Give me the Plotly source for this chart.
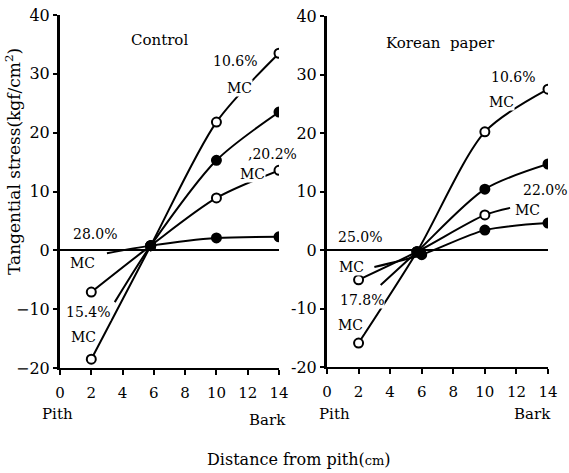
import plotly.graph_objects as go

# ---------------- data ----------------
x_ticks = [0, 2, 4, 6, 8, 10, 12, 14]
y_ticks = [-20, -10, 0, 10, 20, 30, 40]
left_ytext = ["−20", "−10", "0", "10", "20", "30", "40"]
right_ytext = ["-20", "-10", "0", "10", "20", "30", "40"]

# Control panel
ctl_a_x = [2, 5.8, 10, 14]
ctl_a_y = [-18.5, 0.8, 21.8, 33.5]      # 10.6% MC, open
ctl_b_x = [3.5, 5.8, 10, 14]
ctl_b_y = [-8.8, 0.8, 15.3, 23.5]       # filled
ctl_c_x = [2, 5.8, 10, 14]
ctl_c_y = [-7.1, 0.8, 8.9, 13.6]        # open
ctl_d_x = [3.0, 5.8, 10, 14]
ctl_d_y = [-0.5, 0.8, 2.1, 2.3]         # 28.0% MC, filled

# Korean paper panel
kp_a_x = [2, 5.7, 10, 14]
kp_a_y = [-15.9, -0.3, 20.2, 27.5]      # open
kp_b_x = [3.4, 5.7, 10, 14]
kp_b_y = [-6.0, -0.3, 10.4, 14.7]       # filled
kp_c_x = [2, 5.7, 10, 11.6]
kp_c_y = [-5.1, -0.3, 6.0, 7.2]         # open (22.0%)
kp_d_x = [3.0, 6.0, 10, 14]
kp_d_y = [-2.9, -0.8, 3.4, 4.6]         # filled

FONT = "DejaVu Serif"
W, H = 569, 473

fig = go.Figure()

def add(x, y, kind, xa, ya, first_marker=True, last_marker=True):
    n = len(x)
    sizes = [9] * n
    if not first_marker:
        sizes[0] = 0
    if not last_marker:
        sizes[-1] = 0
    if kind == "open":
        color = ["white"] * n
        color[1] = "black"
    else:
        color = ["black"] * n
    fig.add_trace(go.Scatter(
        x=x, y=y, mode="lines+markers", xaxis=xa, yaxis=ya,
        line=dict(color="black", width=2, shape="spline", smoothing=0.8),
        marker=dict(size=sizes, color=color, symbol="circle", opacity=1,
                    line=dict(color="black", width=2)),
        showlegend=False, hoverinfo="skip"))

add(ctl_d_x, ctl_d_y, "filled", "x", "y", first_marker=False)
add(ctl_c_x, ctl_c_y, "open", "x", "y")
add(ctl_b_x, ctl_b_y, "filled", "x", "y", first_marker=False)
add(ctl_a_x, ctl_a_y, "open", "x", "y")

add(kp_d_x, kp_d_y, "filled", "x2", "y2", first_marker=False)
add(kp_c_x, kp_c_y, "open", "x2", "y2", last_marker=False)
add(kp_b_x, kp_b_y, "filled", "x2", "y2", first_marker=False)
add(kp_a_x, kp_a_y, "open", "x2", "y2")

def dom_x(p0, p1):
    return [p0 / W, p1 / W]

def dom_y(top, bottom):
    return [(H - bottom) / H, (H - top) / H]

xcommon = dict(range=[0, 14], tickvals=x_ticks, ticktext=[str(v) for v in x_ticks],
               showline=True, linecolor="black", linewidth=2, ticks="outside",
               ticklen=5, tickwidth=2, tickcolor="black", showgrid=False,
               zeroline=False, mirror=False, ticklabelstandoff=5, automargin=False,
               tickfont=dict(family=FONT, size=15, color="black"))
ycommon = dict(range=[-20, 40], tickvals=y_ticks, showline=True, linecolor="black",
               linewidth=3, ticks="outside", ticklen=4, tickwidth=2, tickcolor="black",
               showgrid=False, zeroline=True, zerolinecolor="black", zerolinewidth=2,
               automargin=False,
               tickfont=dict(family=FONT, size=16, color="black"))

fig.update_layout(
    width=W, height=H, margin=dict(l=0, r=0, t=0, b=0, pad=0, autoexpand=False),
    paper_bgcolor="white", plot_bgcolor="white",
    xaxis=dict(domain=dom_x(60, 279), anchor="y", **xcommon),
    yaxis=dict(domain=dom_y(15, 368), anchor="x", ticktext=left_ytext, **ycommon),
    xaxis2=dict(domain=dom_x(327, 548), anchor="y2", **xcommon),
    yaxis2=dict(domain=dom_y(16, 367), anchor="x2", ticktext=right_ytext, **ycommon),
)

def lab(text, x, y, xa, ya, size=14, bg=True):
    fig.add_annotation(text=text, x=x, y=y, xref=xa, yref=ya, showarrow=False,
                       font=dict(family=FONT, size=size, color="black"),
                       bgcolor="white" if bg else None, borderpad=0,
                       xanchor="center", yanchor="middle")

# Control labels
lab("Control", 6.39, 35.8, "x", "y", size=15)
lab("10.6%", 11.2, 32.2, "x", "y")
lab("MC", 11.5, 27.6, "x", "y")
lab(",20.2%", 13.6, 16.4, "x", "y")
lab("MC", 12.33, 12.9, "x", "y")
lab("28.0%", 2.24, 2.8, "x", "y")
lab("MC", 1.41, -2.2, "x", "y")
lab("15.4%", 1.8, -10.5, "x", "y")
lab("MC", 1.5, -14.7, "x", "y")

# Korean paper labels
lab("Korean  paper", 7.22, 35.4, "x2", "y2", size=15)
lab("10.6%", 11.78, 29.6, "x2", "y2")
lab("MC", 11.08, 25.3, "x2", "y2")
lab("22.0%", 13.8, 10.3, "x2", "y2")
lab("MC", 12.67, 6.8, "x2", "y2")
lab("25.0%", 2.09, 2.2, "x2", "y2")
lab("MC", 1.58, -2.9, "x2", "y2")
lab("17.8%", 2.22, -8.5, "x2", "y2")
lab("MC", 1.46, -12.8, "x2", "y2")

def plab(text, px, py, size=15, angle=0):
    fig.add_annotation(text=text, x=px / W, y=(H - py) / H, xref="paper", yref="paper",
                       showarrow=False, textangle=angle,
                       font=dict(family=FONT, size=size, color="black"),
                       xanchor="center", yanchor="middle")

plab("Pith", 57, 414)
plab("Bark", 267, 420)
plab("Pith", 334, 414)
plab("Bark", 532, 414)
plab("Distance from pith(<span style='font-size:13px'>cm</span>)", 299, 459, size=16)
plab("Tangential stress(kgf/cm<sup>2</sup>)", 13, 162, size=17, angle=-90)

fig.write_html("out.html")
